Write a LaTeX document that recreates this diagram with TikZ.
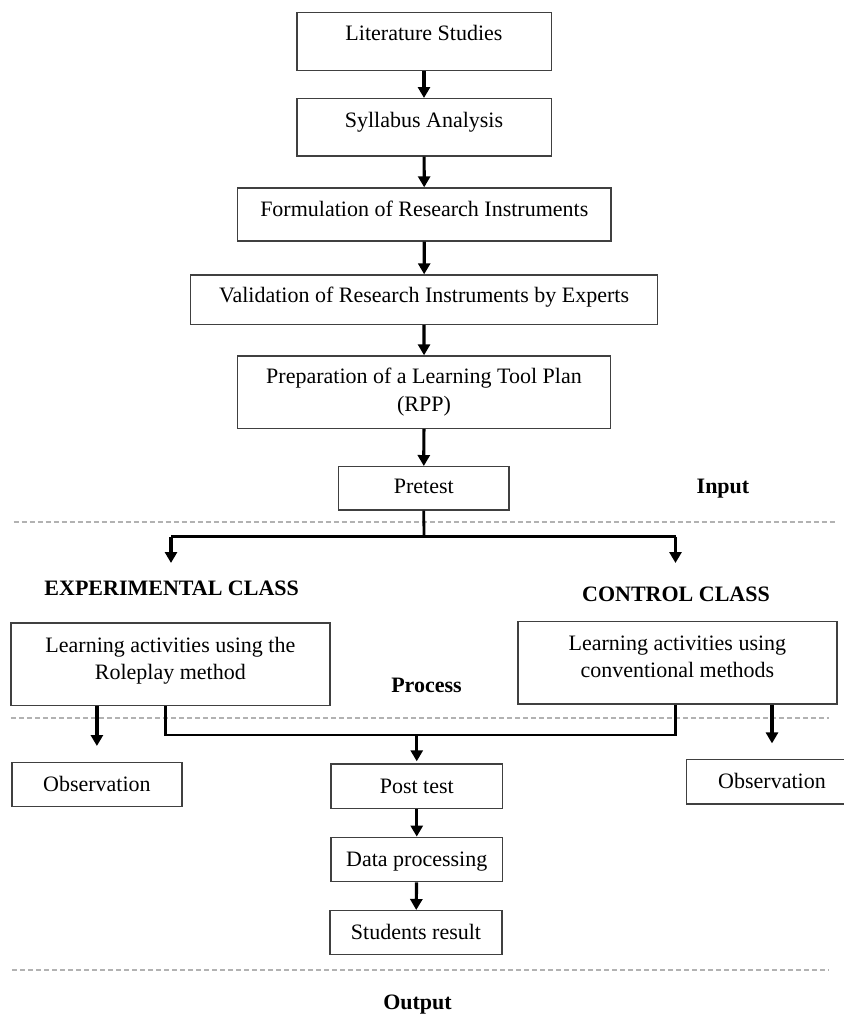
\documentclass[tikz,border=0pt]{standalone}
\usepackage{fontspec}
\setmainfont{Liberation Serif}
\usetikzlibrary{arrows.meta}

\tikzset{
    box/.style={draw=black!75, line width=0.7pt, inner sep=0pt, align=center,
        font=\fontsize{11}{13.6}\selectfont},
    oneline/.style={text height=9.7pt, text depth=2.5pt},
    txtup/.style={text height=9.7pt, text depth=#1},
    arr/.style={line width=1.6pt, -{Triangle[width=6pt,length=5.5pt]}},
    link/.style={line width=1.4pt},
    sep/.style={draw=black!30, line width=1pt, dash pattern=on 2.6pt off 1.4pt},
    head/.style={inner sep=0pt, font=\fontsize{11}{13}\selectfont\bfseries}
}

\begin{document}
\begin{tikzpicture}[x=0.5pt, y=-0.5pt]
    \useasboundingbox (0,0) rectangle (844,1014);
    \clip (0,0) rectangle (844,1014);
    % preparation chain
    \node[box, minimum width=127.2pt, minimum height=29pt, txtup=10.9pt] (lit) at (424,41.7) {Literature Studies};
    \node[box, minimum width=127.2pt, minimum height=28.65pt, txtup=9.85pt] (syl) at (424,127.35) {Syllabus Analysis};
    \node[box, minimum width=186.7pt, minimum height=26.5pt, txtup=8pt] (form) at (424.3,214.5) {Formulation of Research Instruments};
    \node[box, minimum width=233.5pt, minimum height=24.65pt, txtup=7.1pt] (valid) at (424.1,299.65) {Validation of Research Instruments by Experts};
    \node[box, minimum width=186.3pt, minimum height=36.15pt, font=\fontsize{11}{14}\selectfont] (prep) at (424,392.15) {Preparation of a Learning Tool Plan\\(RPP)};
    \node[box, minimum width=85.25pt, minimum height=21.65pt, txtup=4.2pt] (pre) at (423.75,488.35) {Pretest};
    \foreach \a/\b in {lit/syl, syl/form, form/valid, valid/prep, prep/pre}
        \draw[arr] (\a) -- (\b);
    % stage labels
    \node[head] (inp) at (723,489) {Input};
    \node[head] (proc) at (426.5,685) {Process};
    \node[head] (outp) at (417.5,1005) {Output};
    % separators
    \draw[sep] (13.5,521.7) -- (837,521.7);
    \draw[sep] (10.8,718.3) -- (829,718.3);
    \draw[sep] (12,970) -- (828.6,970);
    % split into two classes
    \coordinate (split) at (424,536.7);
    \coordinate (expl) at (171,536.7);
    \coordinate (ctlr) at (675.5,536.7);
    \coordinate (expe) at (171,563);
    \coordinate (ctle) at (675.5,563);
    \draw[link] (pre.south) -- (split);
    \draw[link] (expl) -- (ctlr);
    \draw[arr] (expl) -- (expe);
    \draw[arr] (ctlr) -- (ctle);
    \node[head] (exp) at (171.7,588.3) {EXPERIMENTAL CLASS};
    \node[head] (ctl) at (676,594) {CONTROL CLASS};
    % learning activities
    \node[box, minimum width=159.6pt, minimum height=41.35pt, text depth=6pt] (lact) at (170.4,664.35) {Learning activities using the\\Roleplay method};
    \node[box, minimum width=159.6pt, minimum height=41.15pt, text depth=5.8pt] (ract) at (677.4,662.85) {Learning activities using\\conventional methods};
    % output boxes
    \node[box, oneline, minimum width=85.1pt, minimum height=22pt] (lobs) at (96.9,784.7) {Observation};
    \node[box, oneline, minimum width=85.25pt, minimum height=22.35pt] (robs) at (772,781.65) {Observation};
    \node[box, oneline, minimum width=85.75pt, minimum height=22.15pt] (post) at (416.75,786.15) {Post test};
    \node[box, oneline, minimum width=85.75pt, minimum height=22.2pt] (data) at (416.75,859.5) {Data processing};
    \node[box, oneline, minimum width=85.9pt, minimum height=21.8pt] (stud) at (416,932.5) {Students result};
    % observation arrows
    \draw[arr, shorten >=8pt] (lact.south -| lobs) -- (lobs.north);
    \draw[arr, shorten >=7.6pt] (ract.south -| robs) -- (robs.north);
    % join towards post test
    \coordinate (jl) at (165.8,735);
    \coordinate (jr) at (675.5,735);
    \draw[link] (lact.south -| jl) -- (jl) -- (jr) -- (ract.south -| jr);
    \draw[arr, shorten >=1pt] (jl -| post) -- (post.north);
    \foreach \a/\b in {post/data, data/stud}
        \draw[arr] (\a) -- (\b);
\end{tikzpicture}
\end{document}
